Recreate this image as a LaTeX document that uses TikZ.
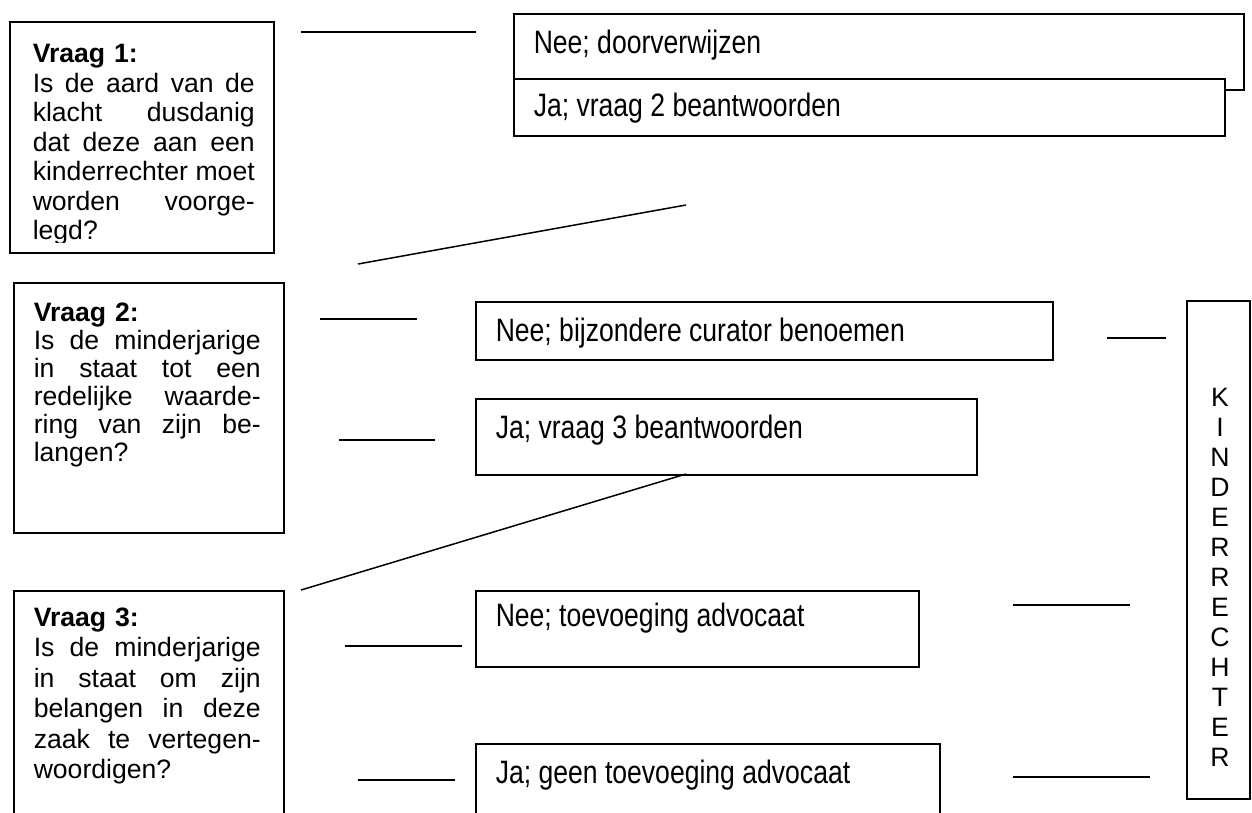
\documentclass[tikz,border=0pt]{standalone}
\usepackage{fontspec}
\setmainfont{Liberation Sans}
\newfontfamily\narrowfont[FakeStretch=0.82]{Liberation Sans}
\newcommand{\jline}[2][222pt]{\leavevmode\hbox to #1{\spaceskip=0.278em plus 1fil\relax #2}}
\tikzset{
  qbox/.style={draw,fill=white,anchor=north west,inner sep=0pt},
  qtext/.style={anchor=base west,inner sep=0pt,text width=#1,align=left},
  qtext/.default=222pt,
  atext/.style={anchor=base west,inner sep=0pt,
    font=\narrowfont\fontsize{32.4}{36}\selectfont},
}
\begin{document}
\begin{tikzpicture}[x=1pt,y=-1pt,line width=1.5pt,
    font=\fontsize{26.6}{29.5}\selectfont]
  \useasboundingbox (0,0) rectangle (1252,812);
  \clip (0,0) rectangle (1252,812);
  % vraag 1
  \node[qbox,minimum width=264pt,minimum height=231pt] (q1) at (9,21) {};
  \begin{scope}
    \clip (9,21) rectangle (273,242);
    \node[qtext] (v1) at (32,62.5)
      {\textbf{Vraag 1:}\\ \jline{Is de aard van de}\\ \jline{klacht dusdanig}\\
       \jline{dat deze aan een}\\ \jline{kinderrechter moet}\\
       \jline{worden voorge-}\\ legd?};
  \end{scope}
  \node[qbox,minimum width=730pt,minimum height=76pt] (nb1) at (513,13) {};
  \node[qbox,minimum width=711pt,minimum height=57pt] (jb1) at (513,78) {};
  \node[atext] (n1) at (533,53.5) {Nee; doorverwijzen};
  \node[atext] (j1) at (533,116.5) {Ja; vraag 2 beantwoorden};
  \coordinate (a1) at (301,32);  \coordinate (a2) at (476,32);
  \coordinate (d1) at (358,264); \coordinate (d2) at (686,205);
  \draw (a1) -- (a2);
  \draw (d1) -- (d2);
  % vraag 2
  \node[qbox,minimum width=270pt,minimum height=250pt] (q2) at (13,282) {};
  \node[qtext=227pt,font=\fontsize{26.6}{28}\selectfont] (v2) at (33,321.5)
    {\textbf{Vraag 2:}\\ \jline[227pt]{Is de minderjarige}\\
     \jline[227pt]{in staat tot een}\\ \jline[227pt]{redelijke waarde-}\\
     \jline[227pt]{ring van zijn be-}\\ langen?};
  \node[qbox,minimum width=577pt,minimum height=58pt] (nb2) at (475,301) {};
  \node[qbox,minimum width=501pt,minimum height=76pt] (jb2) at (475,398) {};
  \node[atext] (n2) at (495,341.5) {Nee; bijzondere curator benoemen};
  \node[atext] (j2) at (495,438.5) {Ja; vraag 3 beantwoorden};
  \coordinate (b1) at (320,319);  \coordinate (b2) at (417,319);
  \coordinate (c1) at (339,440);  \coordinate (c2) at (435,440);
  \coordinate (r1) at (1107,338); \coordinate (r2) at (1166,338);
  \coordinate (d3) at (301,590);  \coordinate (d4) at (686,474);
  \draw (b1) -- (b2);
  \draw (c1) -- (c2);
  \draw (r1) -- (r2);
  \draw (d3) -- (d4);
  % vraag 3
  \node[qbox,minimum width=270pt,minimum height=240pt] (q3) at (13,590) {};
  \node[qtext=227pt,font=\fontsize{26.6}{30.5}\selectfont] (v3) at (33,626)
    {\textbf{Vraag 3:}\\ \jline[227pt]{Is de minderjarige}\\
     \jline[227pt]{in staat om zijn}\\ \jline[227pt]{belangen in deze}\\
     \jline[227pt]{zaak te vertegen-}\\ woordigen?};
  \node[qbox,minimum width=443pt,minimum height=76pt] (nb3) at (475,590) {};
  \node[qbox,minimum width=464pt,minimum height=90pt] (jb3) at (475,743) {};
  \node[atext] (n3) at (495,626.5) {Nee; toevoeging advocaat};
  \node[atext] (j3) at (495,783.5) {Ja; geen toevoeging advocaat};
  \coordinate (e1) at (345,646);  \coordinate (e2) at (462,646);
  \coordinate (f1) at (358,780);  \coordinate (f2) at (455,780);
  \coordinate (r3) at (1013,605); \coordinate (r4) at (1130,605);
  \coordinate (r5) at (1013,777); \coordinate (r6) at (1150,777);
  \draw (e1) -- (e2);
  \draw (f1) -- (f2);
  \draw (r3) -- (r4);
  \draw (r5) -- (r6);
  % kinderrechter
  \node[qbox,minimum width=63pt,minimum height=498pt] (kr) at (1186,300) {};
  \foreach \c [count=\i] in {K,I,N,D,E,R,R,E,C,H,T,E,R}
    \node[anchor=base,inner sep=0pt] (kr\i) at (1220,{406.5+(\i-1)*30}) {\c};
\end{tikzpicture}
\end{document}
